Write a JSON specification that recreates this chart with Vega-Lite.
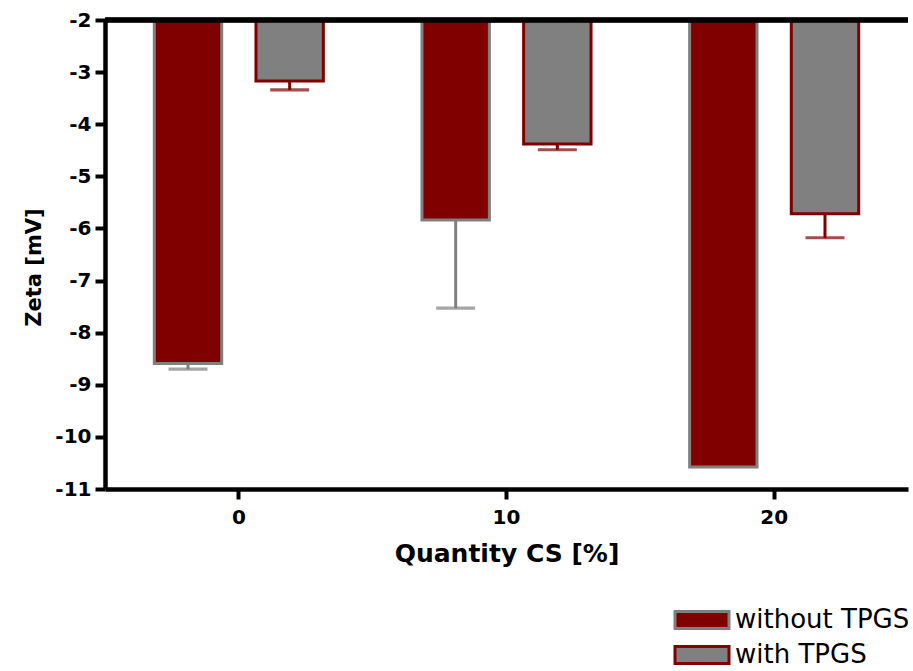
{
  "$schema": "https://vega.github.io/schema/vega-lite/v6.json",
  "width": 803,
  "height": 469,
  "autosize": {"type": "none"},
  "padding": {"left": 105, "top": 20, "right": 5, "bottom": 182},
  "background": "white",
  "config": {
    "view": {"stroke": null},
    "font": "DejaVu Sans"
  },
  "data": {
    "values": [
      {"cs": "0", "group": "without TPGS", "v": -8.59, "err": -8.70},
      {"cs": "0", "group": "with TPGS", "v": -3.17, "err": -3.34},
      {"cs": "10", "group": "without TPGS", "v": -5.84, "err": -7.53},
      {"cs": "10", "group": "with TPGS", "v": -4.38, "err": -4.49},
      {"cs": "20", "group": "without TPGS", "v": -10.58, "err": null},
      {"cs": "20", "group": "with TPGS", "v": -5.72, "err": -6.18}
    ]
  },
  "layer": [
    {
      "mark": {"type": "bar", "strokeWidth": 3},
      "encoding": {
        "x": {
          "field": "cs", "type": "nominal", "sort": ["0", "10", "20"],
          "scale": {"paddingInner": 0, "paddingOuter": 0},
          "axis": {
            "title": "Quantity CS [%]", "labelAngle": 0, "bandPosition": 0.5,
            "labelFont": "DejaVu Sans", "labelFontWeight": "bold", "labelFontSize": 20, "labelColor": "black",
            "labelPadding": 8,
            "titleFont": "DejaVu Sans", "titleFontWeight": "bold", "titleFontSize": 25, "titleColor": "black",
            "titlePadding": 14,
            "domainColor": "black", "domainWidth": 4.5, "tickColor": "black", "tickWidth": 4, "tickSize": 10,
            "grid": false
          }
        },
        "xOffset": {
          "field": "group", "type": "nominal", "sort": ["without TPGS", "with TPGS"],
          "scale": {"paddingInner": 0.337, "paddingOuter": 0.485}
        },
        "y": {
          "field": "v", "type": "quantitative",
          "scale": {"domain": [-11, -2], "nice": false, "zero": false},
          "axis": {
            "title": "Zeta [mV]", "values": [-2, -3, -4, -5, -6, -7, -8, -9, -10, -11],
            "labelExpr": "'' + datum.value",
            "labelFont": "DejaVu Sans", "labelFontWeight": "bold", "labelFontSize": 20, "labelColor": "black",
            "labelPadding": 4,
            "titleFont": "DejaVu Sans", "titleFontWeight": "bold", "titleFontSize": 21, "titleColor": "black",
            "titlePadding": 10, "titleY": 247,
            "domainColor": "black", "domainWidth": 4.5, "tickColor": "black", "tickWidth": 4, "tickSize": 10,
            "grid": false
          }
        },
        "y2": {"datum": -2},
        "fill": {
          "field": "group", "type": "nominal",
          "scale": {"domain": ["without TPGS", "with TPGS"], "range": ["#800000", "#808080"]},
          "legend": {
            "title": null, "orient": "none", "legendX": 567, "legendY": 587,
            "padding": 0,
            "symbolType": "M-2.7,-0.85H2.7V0.85H-2.7Z", "symbolSize": 400,
            "symbolStrokeWidth": 3, "symbolOffset": 17, "labelOffset": 20, "labelLimit": 400,
            "labelFont": "DejaVu Sans", "labelFontSize": 26, "labelColor": "black",
            "rowPadding": 5
          }
        },
        "stroke": {
          "field": "group", "type": "nominal",
          "scale": {"domain": ["without TPGS", "with TPGS"], "range": ["#808080", "#800000"]},
          "legend": {
            "title": null, "orient": "none", "legendX": 567, "legendY": 587,
            "padding": 0,
            "symbolType": "M-2.7,-0.85H2.7V0.85H-2.7Z", "symbolSize": 400,
            "symbolStrokeWidth": 3, "symbolOffset": 17, "labelOffset": 20, "labelLimit": 400,
            "labelFont": "DejaVu Sans", "labelFontSize": 26, "labelColor": "black",
            "rowPadding": 5
          }
        }
      }
    },
    {
      "transform": [{"filter": "datum.err != null"}],
      "mark": {"type": "rule", "strokeWidth": 3},
      "encoding": {
        "x": {"field": "cs", "type": "nominal", "sort": ["0", "10", "20"]},
        "xOffset": {"field": "group", "type": "nominal", "sort": ["without TPGS", "with TPGS"]},
        "y": {"field": "v", "type": "quantitative"},
        "y2": {"field": "err"},
        "stroke": {"field": "group", "type": "nominal", "legend": null}
      }
    },
    {
      "transform": [{"filter": "datum.err != null"}],
      "mark": {"type": "tick", "filled": false, "thickness": 0.1, "size": 36, "strokeWidth": 3, "orient": "horizontal"},
      "encoding": {
        "x": {"field": "cs", "type": "nominal", "sort": ["0", "10", "20"]},
        "xOffset": {"field": "group", "type": "nominal", "sort": ["without TPGS", "with TPGS"]},
        "y": {"field": "err", "type": "quantitative"},
        "stroke": {"field": "group", "type": "nominal", "legend": null}
      }
    },
    {
      "mark": {"type": "rule", "color": "black", "strokeWidth": 4.5},
      "encoding": {"y": {"datum": -2}}
    }
  ]
}
